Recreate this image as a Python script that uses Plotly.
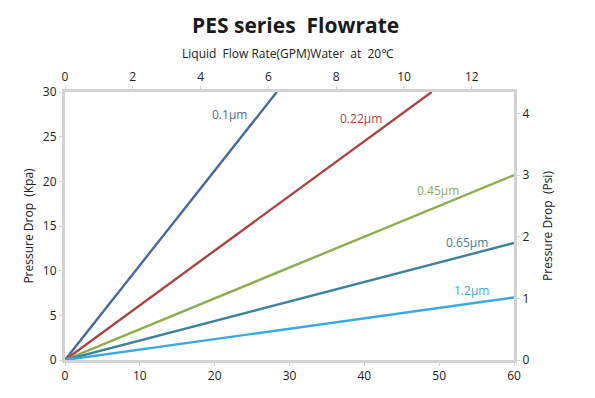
import plotly.graph_objects as go

# Data (flow in LPM on bottom axis, pressure drop in kPa)
series_names = ["0.1μm", "0.22μm", "0.45μm", "0.65μm", "1.2μm"]
flow_start = [0, 0, 0, 0, 0]
flow_end = [28.3, 49.0, 60, 60, 60]
dp_start = [0, 0, 0, 0, 0]
dp_end = [30, 30, 20.7, 13.1, 7.0]
colors = ["#4a6a9b", "#a84545", "#8fad4f", "#3d8298", "#3aa9e0"]
label_x = [22.0, 39.6, 49.9, 53.7, 54.3]
label_y = [27.5, 27.0, 19.0, 13.2, 7.8]

x_ticks = [0, 10, 20, 30, 40, 50, 60]
y_ticks = [0, 5, 10, 15, 20, 25, 30]
gpm_ticks = [0, 2, 4, 6, 8, 10, 12]
psi_ticks = [0, 1, 2, 3, 4]
LPM_PER_GPM = 4.53
KPA_PER_PSI = 6.895

FONT = "Open Sans, Noto Sans, sans-serif"
AXIS_GRAY = "#d3d3d3"

fig = go.Figure()
for i, name in enumerate(series_names):
    fig.add_trace(go.Scatter(
        x=[flow_start[i], flow_end[i]], y=[dp_start[i], dp_end[i]],
        mode="lines", line=dict(color=colors[i], width=2.4),
        name=name, showlegend=False, hoverinfo="skip"))
    fig.add_annotation(x=label_x[i], y=label_y[i], text=name, showarrow=False,
                       font=dict(family=FONT, size=12, color=colors[i]),
                       xref="x", yref="y")

# invisible trace on secondary axes (GPM / psi)
fig.add_trace(go.Scatter(
    x=[v / LPM_PER_GPM for v in flow_end], y=[v / KPA_PER_PSI for v in dp_end],
    xaxis="x2", yaxis="y2", mode="markers", marker=dict(opacity=0),
    showlegend=False, hoverinfo="skip"))

axis_common = dict(showgrid=False, zeroline=False, showline=True,
                   linecolor=AXIS_GRAY, linewidth=3, ticks="outside",
                   tickcolor=AXIS_GRAY, ticklen=3, tickwidth=1,
                   tickfont=dict(family=FONT, size=12, color="#222"))

fig.update_layout(
    width=595, height=398,
    margin=dict(l=65, r=81, t=92, b=38),
    paper_bgcolor="white", plot_bgcolor="white",
    font=dict(family=FONT, color="#222"),
    xaxis=dict(range=[0, 60], tickvals=x_ticks, **axis_common),
    yaxis=dict(range=[0, 30], tickvals=y_ticks,
               title=dict(text="Pressure Drop  (Kpa)", font=dict(family=FONT, size=12, color="#222"), standoff=7),
               **axis_common),
    xaxis2=dict(range=[0, 60 / LPM_PER_GPM], tickvals=gpm_ticks, overlaying="x", side="top",
                **axis_common),
    yaxis2=dict(range=[0, 30 / KPA_PER_PSI], tickvals=psi_ticks, overlaying="y", side="right",
                title=dict(text="Pressure Drop  (Psi)", font=dict(family=FONT, size=12, color="#222"), standoff=16),
                **axis_common),
    showlegend=False,
)
fig.add_annotation(x=0.5, y=1 + (92 - 25) / 269, xref="paper", yref="paper", yanchor="middle",
                   xshift=6,
                   text="<b>PES series  Flowrate</b>", showarrow=False,
                   font=dict(family=FONT, size=21, color="#1a1a1a"))
fig.add_annotation(x=0.5, y=1 + (92 - 53) / 269, xref="paper", yref="paper", yanchor="middle",
                   xshift=-2,
                   text="Liquid  Flow Rate(GPM)Water  at  20℃", showarrow=False,
                   font=dict(family=FONT, size=12, color="#222"))

fig.write_html("out.html", config={"displayModeBar": False},
               post_script="document.body.style.margin='0';document.body.style.padding='0';")
